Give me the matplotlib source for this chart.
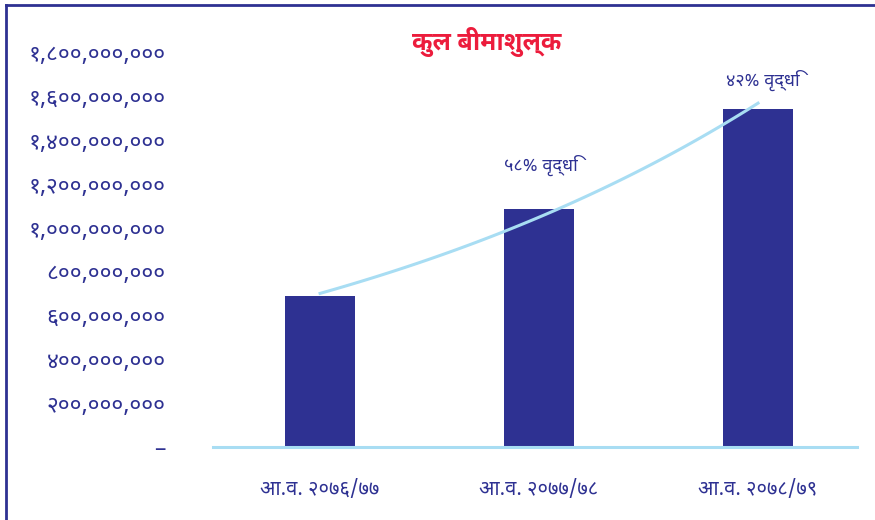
import os
import numpy as np
import matplotlib
matplotlib.use("Agg")
import matplotlib.pyplot as plt
from matplotlib import font_manager
from matplotlib.lines import Line2D

# data
years = ["आ.व. २०७६/७७", "आ.व. २०७७/७८", "आ.व. २०७८/७९"]
premium = [688e6, 1084e6, 1540e6]
growth_labels = ["५८% वृद्धि", "४२% वृद्धि"]
yticks = [0, 2e8, 4e8, 6e8, 8e8, 10e8, 12e8, 14e8, 16e8, 18e8]
ytick_labels = ["–", "२००,०००,०००", "४००,०००,०००", "६००,०००,०००", "८००,०००,०००",
                "१,०००,०००,०००", "१,२००,०००,०००", "१,४००,०००,०००",
                "१,६००,०००,०००", "१,८००,०००,०००"]
title = "कुल बीमाशुल्क"

navy = "#2E3192"
light = "#A8DDF3"
red = "#EC1C3C"


def find_font(names):
    files = font_manager.findSystemFonts()
    for n in names:
        for f in files:
            if os.path.basename(f).startswith(n):
                font_manager.fontManager.addfont(f)
                return font_manager.FontProperties(fname=f).get_name()
    return None


reg = find_font(["NotoSansDevanagari-Regular", "NotoSansDevanagari[", "NotoSansDevanagariUI-Regular",
                 "Mukta-Regular", "Hind-Regular"])
bold = find_font(["NotoSansDevanagari-Bold", "NotoSansDevanagariUI-Bold", "Mukta-Bold", "Hind-Bold"])
fam = [f for f in [reg, "DejaVu Sans"] if f]
fam_b = [f for f in [bold, reg, "DejaVu Sans"] if f]
plt.rcParams['font.family'] = fam

fig = plt.figure(figsize=(8.75, 5.2), dpi=100)
ax = fig.add_axes([213 / 875, 1 - 447 / 520, 644 / 875, 395 / 520])

x = np.arange(len(years))
ax.bar(x, premium, width=0.32, color=navy, zorder=2)

# exponential trendline through the bars
k, b = np.polyfit(x, np.log(premium), 1)
xs = np.linspace(0, 2, 100)
ax.plot(xs, np.exp(b + k * xs), color=light, lw=2.2, zorder=3)

ax.set_xlim(-0.489, 2.452)
ax.set_ylim(0, 18e8)
ax.axhline(0, color=light, lw=2.2, clip_on=False, zorder=4)

for s in ax.spines.values():
    s.set_visible(False)
ax.set_yticks(yticks)
ax.set_yticklabels(ytick_labels, fontsize=16.5, color=navy)
ax.tick_params(axis='y', length=0, pad=34)
ax.set_xticks(x)
ax.set_xticklabels(years, fontsize=14.5, color=navy)
ax.tick_params(axis='x', length=0, pad=24)

ax.text(1.01, 12.85e8, growth_labels[0], ha='center', va='center', fontsize=13,
        color=navy)
ax.text(2.02, 16.7e8, growth_labels[1], ha='center', va='center', fontsize=13,
        color=navy)

fig.text(487 / 875, 1 - 42 / 520, title, ha='center', va='center', fontsize=18,
         color=red, fontweight='bold', family=fam_b)

# frame lines at left and top
fig.add_artist(Line2D([6 / 875, 6 / 875], [0, 1 - 5 / 520], color=navy, lw=2))
fig.add_artist(Line2D([6 / 875, 1], [1 - 5 / 520, 1 - 5 / 520], color=navy, lw=2))

fig.savefig("out.png", dpi=100)
